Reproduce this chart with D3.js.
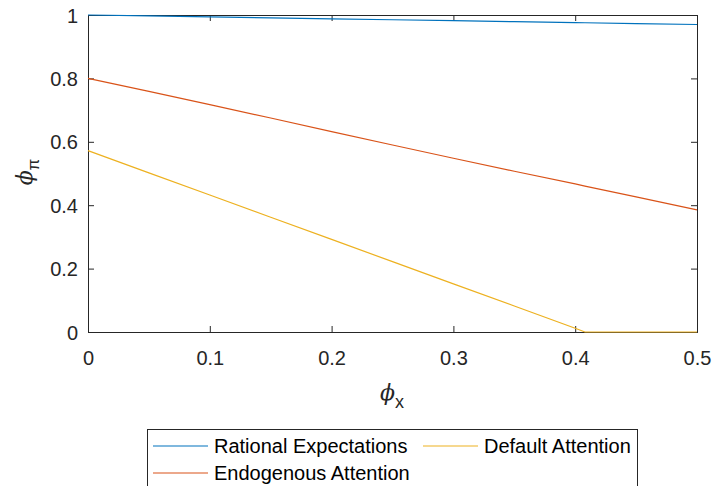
<!DOCTYPE html>
<html>
<head>
<meta charset="utf-8">
<script src="https://cdn.jsdelivr.net/npm/d3@7"></script>
<style>
  html, body { margin: 0; padding: 0; background: #fff; }
  svg { display: block; font-family: "Liberation Sans", Arial, Helvetica, sans-serif; }
</style>
</head>
<body>
<svg id="chart" width="713" height="486"></svg>
<script>
// phi_x grid
const phiX = [0, 0.05, 0.1, 0.15, 0.2, 0.25, 0.3, 0.35, 0.4, 0.408, 0.45, 0.5];
// phi_pi for each model
const rationalExp = [1.000, 0.997, 0.994, 0.991, 0.988, 0.985, 0.982, 0.979, 0.976, 0.9755, 0.973, 0.970];
const endogenousAtt = [0.800, 0.759, 0.717, 0.675, 0.632, 0.590, 0.548, 0.507, 0.467, 0.460, 0.426, 0.385];
const defaultAtt = [0.572, 0.502, 0.432, 0.362, 0.292, 0.222, 0.152, 0.082, 0.012, 0.000, 0.000, 0.000];

const xTicks = [0, 0.1, 0.2, 0.3, 0.4, 0.5];
const yTicks = [0, 0.2, 0.4, 0.6, 0.8, 1];

const seriesNames = ["Rational Expectations", "Endogenous Attention", "Default Attention"];
const seriesColors = ["#0072BD", "#D95319", "#EDB120"];
const seriesData = [rationalExp, endogenousAtt, defaultAtt];

const svg = d3.select("#chart");
const plotL = 88, plotR = 697, plotT = 15, plotB = 332;
const x = d3.scaleLinear().domain([0, 0.5]).range([plotL, plotR]);
const y = d3.scaleLinear().domain([0, 1]).range([plotB, plotT]);

const axisColor = "#262626";
const tickLen = 6;
const fontSize = 20;

// Axes: bottom / left with labels, top / right ticks only (boxed)
const gx = svg.append("g").attr("transform", `translate(0,${plotB})`)
  .call(d3.axisBottom(x).tickValues(xTicks).tickSize(-tickLen).tickPadding(19)
        .tickFormat(d => d3.format("~g")(d)));
const gy = svg.append("g").attr("transform", `translate(${plotL},0)`)
  .call(d3.axisLeft(y).tickValues(yTicks).tickSize(-tickLen).tickPadding(10)
        .tickFormat(d => d3.format("~g")(d)));
const gxt = svg.append("g").attr("transform", `translate(0,${plotT})`)
  .call(d3.axisTop(x).tickValues(xTicks).tickSize(-tickLen).tickFormat(""));
const gyr = svg.append("g").attr("transform", `translate(${plotR},0)`)
  .call(d3.axisRight(y).tickValues(yTicks).tickSize(-tickLen).tickFormat(""));

[gx, gy, gxt, gyr].forEach(g => {
  g.select(".domain").attr("stroke", axisColor).attr("stroke-width", 1);
  g.selectAll(".tick line").attr("stroke", axisColor).attr("stroke-width", 1);
  g.selectAll(".tick text").attr("fill", axisColor)
    .style("font-size", fontSize + "px")
    .style("font-family", '"Liberation Sans", Arial, sans-serif');
});
gx.selectAll(".tick text").attr("dy", "0.71em");
gy.selectAll(".tick text").attr("dy", "0.35em");

// Data lines, drawn over the axis box
const line = d3.line().x((d, i) => x(phiX[i])).y(d => y(d));
seriesData.forEach((vals, k) => {
  svg.append("path")
    .datum(vals)
    .attr("d", line)
    .attr("fill", "none")
    .attr("stroke", seriesColors[k])
    .attr("stroke-width", 1.2);
});

// Axis titles
const xl = svg.append("text")
  .attr("x", 392).attr("y", 400)
  .attr("text-anchor", "middle")
  .attr("fill", axisColor)
  .style("font-size", "22px");
xl.append("tspan").attr("font-style", "italic").attr("font-family", '"DejaVu Serif", serif').text("ϕ");
xl.append("tspan").attr("dy", 8).style("font-size", "18px").text("x");

const yl = svg.append("text")
  .attr("transform", "translate(32,172) rotate(-90)")
  .attr("text-anchor", "middle")
  .attr("fill", axisColor)
  .style("font-size", "22px");
yl.append("tspan").attr("font-style", "italic").attr("font-family", '"DejaVu Serif", serif').text("ϕ");
yl.append("tspan").attr("dy", 7).style("font-size", "17px").text("π");

// Legend
const lg = svg.append("g");
lg.append("rect")
  .attr("x", 147.5).attr("y", 429.5)
  .attr("width", 490).attr("height", 70)
  .attr("fill", "#fff").attr("stroke", axisColor).attr("stroke-width", 1);
const legendPos = [
  { lx: 153, ty: 446 },
  { lx: 153, ty: 473 },
  { lx: 423, ty: 446 }
];
seriesNames.forEach((name, k) => {
  const p = legendPos[k];
  lg.append("line")
    .attr("x1", p.lx).attr("x2", p.lx + 55)
    .attr("y1", p.ty).attr("y2", p.ty)
    .attr("stroke", seriesColors[k]).attr("stroke-width", 1.2);
  lg.append("text")
    .attr("x", p.lx + 61).attr("y", p.ty)
    .attr("dy", "0.35em")
    .attr("fill", "#000")
    .style("font-size", fontSize + "px")
    .text(name);
});
</script>
</body>
</html>
